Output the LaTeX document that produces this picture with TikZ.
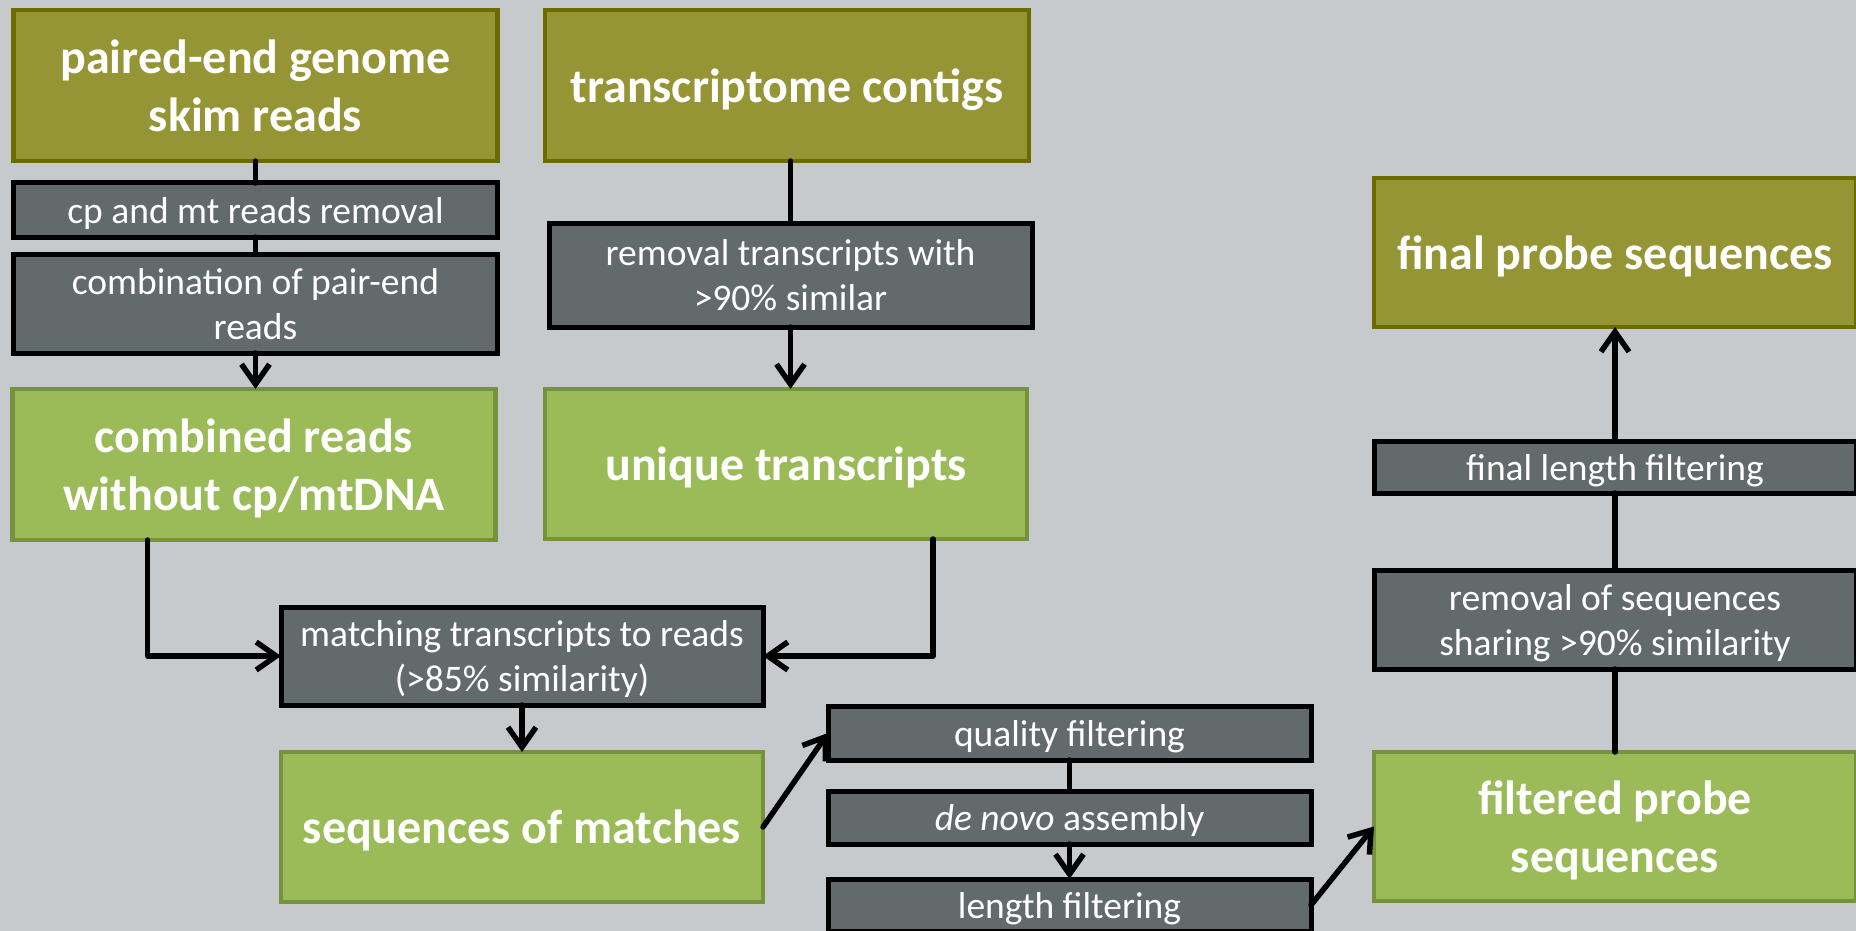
\documentclass[tikz,border=0pt]{standalone}
\usepackage{fontspec}
\setmainfont{Carlito}
\usetikzlibrary{arrows.meta,calc}

\definecolor{bgcol}{HTML}{C6CACD}
\definecolor{olivefill}{HTML}{959535}
\definecolor{oliveline}{HTML}{6B6B00}
\definecolor{greenfill}{HTML}{9BBB59}
\definecolor{greenline}{HTML}{76923C}
\definecolor{grayfill}{HTML}{636A6C}

\tikzset{
  box/.style={rectangle, inner sep=0pt, outer sep=0pt, align=center, text=white, text depth=0pt, line width=4.5pt},
  olivebox/.style={box, fill=olivefill, draw=oliveline, font=\fontsize{48}{58}\selectfont\bfseries},
  greenbox/.style={box, fill=greenfill, draw=greenline, font=\fontsize{48}{58}\selectfont\bfseries},
  graybox/.style={box, fill=grayfill, draw=black, line width=5pt, font=\fontsize{37.5}{45}\selectfont},
  link/.style={line width=5.5pt, draw=black, line cap=round, line join=round},
  arr/.style={link, -{Straight Barb[length=20pt, width=28pt, line width=5.5pt]}},
}

\begin{document}
\begin{tikzpicture}[x=1pt, y=-1pt]
  \fill[bgcol] (0,0) rectangle (1856,931);
  \useasboundingbox (0,0) rectangle (1856,931);

  % left column: genome skim reads
  \node[olivebox, minimum width=484, minimum height=151] (A) at (255.5,85.5) {paired-end genome\\skim reads};
  \node[graybox, minimum width=484, minimum height=54] (B) at (255.5,210) {cp and mt reads removal};
  \node[graybox, minimum width=484, minimum height=99] (C) at (255.5,303.5) {combination of pair-end\\reads};
  \node[greenbox, minimum width=483, minimum height=151] (D) at (254,464.5) {combined reads\\without cp/mtDNA};

  % middle column: transcriptome
  \node[olivebox, minimum width=484, minimum height=151] (E) at (787,85.5) {transcriptome contigs};
  \node[graybox, minimum width=483, minimum height=104] (F) at (790.5,275) {removal transcripts with\\>90\% similar};
  \node[greenbox, minimum width=482, minimum height=150] (G) at (786,464) {unique transcripts};

  % matching
  \node[graybox, minimum width=482, minimum height=98] (H) at (522,656) {matching transcripts to reads\\(>85\% similarity)};
  \node[greenbox, minimum width=482, minimum height=150] (I) at (522,827) {sequences of matches};

  % assembly steps
  \node[graybox, minimum width=483, minimum height=54] (J) at (1069.5,733) {quality filtering};
  \node[graybox, minimum width=483, minimum height=53] (K) at (1069.5,817.5) {\textit{de novo} assembly};
  \node[graybox, minimum width=483, minimum height=52] (L) at (1069.5,905) {length filtering};

  % right column: probes
  \node[greenbox, minimum width=482, minimum height=149] (M) at (1615,826.5) {filtered probe\\sequences};
  \node[graybox, minimum width=482, minimum height=99] (N) at (1615,619.5) {removal of sequences\\sharing >90\% similarity};
  \node[graybox, minimum width=482, minimum height=52] (O) at (1615,467) {final length filtering};
  \node[olivebox, minimum width=482, minimum height=149] (P) at (1615,252.5) {final probe sequences};

  % connectors
  \draw[link] (A.south) -- (B.north);
  \draw[link] (B.south) -- (C.north);
  \draw[arr] (C.south) -- (D.north -| C.south);

  \draw[link] (E.south -| F.north) -- (F.north);
  \draw[arr] (F.south) -- (F.south |- G.north);

  \coordinate (Dout) at ($(D.south west)!0.28!(D.south east)$);
  \coordinate (Gout) at ($(G.south west)!0.805!(G.south east)$);
  \draw[arr] (Dout) |- (H.west);
  \draw[arr] (Gout) |- (H.east);
  \draw[arr] (H.south) -- (I.north);

  \draw[arr] (I.east) -- (J.west);
  \draw[link] (J.south) -- (K.north);
  \draw[arr] (K.south) -- (L.north);
  \draw[arr] (L.east) -- (M.west);

  \draw[link] (M.north) -- (N.south);
  \draw[link] (N.north) -- (O.south);
  \draw[arr] (O.north) -- (P.south);
\end{tikzpicture}
\end{document}
